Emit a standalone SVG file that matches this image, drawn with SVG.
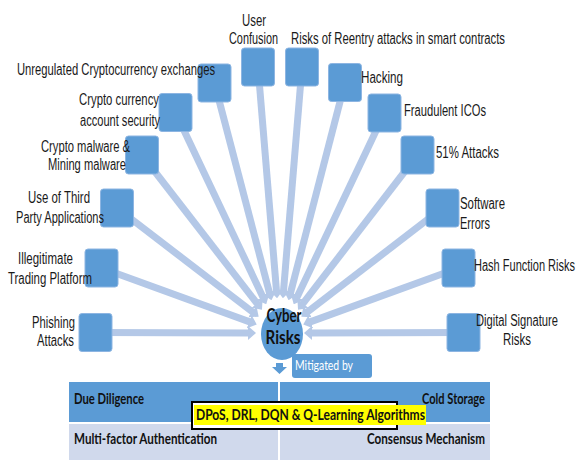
<svg xmlns="http://www.w3.org/2000/svg" width="578" height="460" viewBox="0 0 578 460">
  <style>
    .box { fill: #5b9bd5; stroke: #8db5e2; stroke-width: 1; }
    .spoke { stroke: #b4c8e7; stroke-width: 7; fill: none; marker-end: url(#head); }
    .lbl { font-family: "Liberation Sans", Arial, sans-serif; font-size: 16px; fill: #1a1a1a; }
    .cell { font-family: Lato, "Liberation Sans", sans-serif; font-size: 15px; font-weight: bold; fill: #111; }
    .hub { font-family: Lato, "Liberation Sans", sans-serif; font-size: 18px; font-weight: bold; fill: #111; }
  </style>
  <defs>
    <marker id="head" markerUnits="userSpaceOnUse" viewBox="0 0 8 14" refX="2" refY="7" markerWidth="8" markerHeight="14" orient="auto">
      <path d="M0,0 L8,7 L0,14 z" fill="#b4c8e7"/>
    </marker>
  </defs>

  <rect width="578" height="460" fill="#ffffff"/>

  <!-- hub -->
  <g id="hub">
    <ellipse cx="282" cy="334" rx="21" ry="26" fill="#5b9bd5"/>
  </g>

  <!-- spokes running from each risk box into the hub -->
  <g id="connectors">
    <line class="spoke" x1="95.5" y1="332.5" x2="250" y2="333"/>
    <line class="spoke" x1="101.5" y1="268" x2="251.1" y2="322.4"/>
    <line class="spoke" x1="117" y1="208" x2="253.9" y2="313"/>
    <line class="spoke" x1="142" y1="155" x2="258.3" y2="305.1"/>
    <line class="spoke" x1="175.5" y1="112.5" x2="263.7" y2="298.8"/>
    <line class="spoke" x1="214.5" y1="83" x2="269.9" y2="294.5"/>
    <line class="spoke" x1="258" y1="67" x2="276.6" y2="292.2"/>
    <line class="spoke" x1="302" y1="67" x2="283.4" y2="292.2"/>
    <line class="spoke" x1="345" y1="82.5" x2="290.1" y2="294.5"/>
    <line class="spoke" x1="384.5" y1="113" x2="296.3" y2="298.8"/>
    <line class="spoke" x1="417.5" y1="155" x2="301.7" y2="305.1"/>
    <line class="spoke" x1="442.5" y1="208" x2="306.1" y2="313"/>
    <line class="spoke" x1="458.5" y1="268" x2="308.9" y2="322.4"/>
    <line class="spoke" x1="463.5" y1="332.5" x2="310" y2="333"/>
  </g>

  <g id="hub-label">
    <text class="hub" x="284" y="322" text-anchor="middle" textLength="35" lengthAdjust="spacingAndGlyphs">Cyber</text>
    <text class="hub" x="283" y="344" text-anchor="middle" textLength="35" lengthAdjust="spacingAndGlyphs">Risks</text>
  </g>

  <!-- risk nodes -->
  <g id="phishing">
    <rect class="box" x="79" y="313.5" width="33" height="38" rx="3"/>
    <text class="lbl" x="32" y="328" textLength="43" lengthAdjust="spacingAndGlyphs">Phishing</text>
    <text class="lbl" x="37" y="346" textLength="37" lengthAdjust="spacingAndGlyphs">Attacks</text>
  </g>
  <g id="illegitimate">
    <rect class="box" x="85" y="249" width="33" height="38" rx="3"/>
    <text class="lbl" x="18" y="264" textLength="55" lengthAdjust="spacingAndGlyphs">Illegitimate</text>
    <text class="lbl" x="8" y="284" textLength="84" lengthAdjust="spacingAndGlyphs">Trading Platform</text>
  </g>
  <g id="third-party">
    <rect class="box" x="100.5" y="189" width="33" height="38" rx="3"/>
    <text class="lbl" x="28" y="203" textLength="62" lengthAdjust="spacingAndGlyphs">Use of Third</text>
    <text class="lbl" x="16" y="223" textLength="88" lengthAdjust="spacingAndGlyphs">Party Applications</text>
  </g>
  <g id="malware">
    <rect class="box" x="125.5" y="136" width="33" height="38" rx="3"/>
    <text class="lbl" x="41" y="152" textLength="89" lengthAdjust="spacingAndGlyphs">Crypto malware &amp;</text>
    <text class="lbl" x="48" y="170" textLength="78" lengthAdjust="spacingAndGlyphs">Mining malware</text>
  </g>
  <g id="account-security">
    <rect class="box" x="159" y="93.5" width="33" height="38" rx="3"/>
    <text class="lbl" x="79" y="105" textLength="80" lengthAdjust="spacingAndGlyphs">Crypto currency</text>
    <text class="lbl" x="80" y="126" textLength="80" lengthAdjust="spacingAndGlyphs">account security</text>
  </g>
  <g id="exchanges">
    <rect class="box" x="198" y="64" width="33" height="38" rx="3"/>
    <text class="lbl" x="17" y="75" textLength="198" lengthAdjust="spacingAndGlyphs">Unregulated Cryptocurrency exchanges</text>
  </g>
  <g id="user-confusion">
    <rect class="box" x="241.5" y="48" width="33" height="38" rx="3"/>
    <text class="lbl" x="242" y="26" textLength="24" lengthAdjust="spacingAndGlyphs">User</text>
    <text class="lbl" x="229" y="44" textLength="49" lengthAdjust="spacingAndGlyphs">Confusion</text>
  </g>
  <g id="reentry">
    <rect class="box" x="285.5" y="48" width="33" height="38" rx="3"/>
    <text class="lbl" x="291" y="44" textLength="214" lengthAdjust="spacingAndGlyphs">Risks of Reentry attacks in smart contracts</text>
  </g>
  <g id="hacking">
    <rect class="box" x="328.5" y="63.5" width="33" height="38" rx="3"/>
    <text class="lbl" x="361" y="83" textLength="42" lengthAdjust="spacingAndGlyphs">Hacking</text>
  </g>
  <g id="fraudulent-icos">
    <rect class="box" x="368" y="94" width="33" height="38" rx="3"/>
    <text class="lbl" x="404" y="116" textLength="82" lengthAdjust="spacingAndGlyphs">Fraudulent ICOs</text>
  </g>
  <g id="attacks-51">
    <rect class="box" x="401" y="136" width="33" height="38" rx="3"/>
    <text class="lbl" x="436" y="158" textLength="63" lengthAdjust="spacingAndGlyphs">51% Attacks</text>
  </g>
  <g id="software-errors">
    <rect class="box" x="426" y="189" width="33" height="38" rx="3"/>
    <text class="lbl" x="460" y="209" textLength="45" lengthAdjust="spacingAndGlyphs">Software</text>
    <text class="lbl" x="460" y="229" textLength="30" lengthAdjust="spacingAndGlyphs">Errors</text>
  </g>
  <g id="hash-function">
    <rect class="box" x="442" y="249" width="33" height="38" rx="3"/>
    <text class="lbl" x="474" y="271" textLength="101" lengthAdjust="spacingAndGlyphs">Hash Function Risks</text>
  </g>
  <g id="digital-signature">
    <rect class="box" x="447" y="313.5" width="33" height="38" rx="3"/>
    <text class="lbl" x="476" y="326" textLength="82" lengthAdjust="spacingAndGlyphs">Digital Signature</text>
    <text class="lbl" x="503" y="345" textLength="28" lengthAdjust="spacingAndGlyphs">Risks</text>
  </g>

  <!-- mitigation callout -->
  <g id="mitigated-by">
    <path d="M272,367 L276,367 L276,363 L283,363 L283,367 L287,367 L279.5,374 z" fill="#5b9bd5"/>
    <rect x="292" y="354" width="80" height="24" rx="3" fill="#5b9bd5"/>
    <text x="295" y="370" font-family="Lato, 'Liberation Sans', sans-serif" font-size="14" fill="#ffffff" textLength="58" lengthAdjust="spacingAndGlyphs">Mitigated by</text>
  </g>

  <!-- mitigation table -->
  <g id="mitigation-table">
    <rect x="69" y="382" width="421" height="40" fill="#5b9bd5"/>
    <rect x="69" y="424" width="421" height="36" fill="#d0d9ec"/>
    <line x1="279" y1="382" x2="279" y2="460" stroke="#ffffff" stroke-width="2"/>
    <text class="cell" x="74" y="404" textLength="70" lengthAdjust="spacingAndGlyphs">Due Diligence</text>
    <text class="cell" x="422" y="404" textLength="63" lengthAdjust="spacingAndGlyphs">Cold Storage</text>
    <text class="cell" x="74" y="444" textLength="143" lengthAdjust="spacingAndGlyphs">Multi-factor Authentication</text>
    <text class="cell" x="367" y="444" textLength="118" lengthAdjust="spacingAndGlyphs">Consensus Mechanism</text>
  </g>

  <g id="algorithms">
    <rect x="192" y="402" width="205" height="27" fill="#ffffff" stroke="#000000" stroke-width="2"/>
    <rect x="194" y="405" width="232" height="20" fill="#ffff00"/>
    <text class="cell" x="196" y="420" textLength="229" lengthAdjust="spacingAndGlyphs">DPoS, DRL, DQN &amp; Q-Learning Algorithms</text>
  </g>
</svg>
